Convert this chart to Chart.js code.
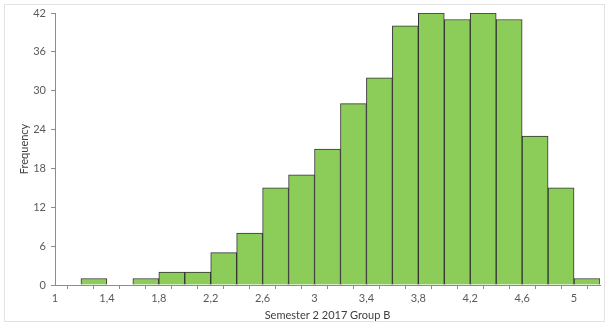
<!DOCTYPE html>
<html>
<head>
<meta charset="utf-8">
<script src="https://cdn.jsdelivr.net/npm/chart.js@4.4.1/dist/chart.umd.min.js"></script>
<style>
  html, body { margin: 0; padding: 0; background: #fff; }
  #frame {
    position: absolute; left: 4px; top: 4px; width: 601px; height: 318px;
    border: 1px solid #e3e3e3; box-sizing: border-box;
  }
  #wrap { position: absolute; left: 0; top: 0; width: 610px; height: 327px; }
</style>
</head>
<body>
<div id="frame"></div>
<div id="wrap"><canvas id="hist"></canvas></div>
<script>
// histogram bins (width 0.2) and their counts
const binWidth = 0.2;
const binStarts = [1.2, 1.6, 1.8, 2.0, 2.2, 2.4, 2.6, 2.8, 3.0, 3.2, 3.4, 3.6, 3.8, 4.0, 4.2, 4.4, 4.6, 4.8, 5.0];
const frequencies = [1, 1, 2, 2, 5, 8, 15, 17, 21, 28, 32, 40, 42, 41, 42, 41, 23, 15, 1];
const xTickValues = [1, 1.2, 1.4, 1.6, 1.8, 2, 2.2, 2.4, 2.6, 2.8, 3, 3.2, 3.4, 3.6, 3.8, 4, 4.2, 4.4, 4.6, 4.8, 5, 5.2];
const xTickLabels = ['1', '', '1,4', '', '1,8', '', '2,2', '', '2,6', '', '3', '', '3,4', '', '3,8', '', '4,2', '', '4,6', '', '5', ''];

const points = binStarts.map((s, i) => ({ x: s + binWidth / 2, y: frequencies[i] }));

const textColor = '#595959';
const axisColor = '#8c8c8c';
const font = { family: 'Lato', size: 11 };

new Chart(document.getElementById('hist'), {
  type: 'bar',
  data: {
    datasets: [{
      data: points,
      backgroundColor: '#8ccd5a',
      borderColor: '#333333',
      borderWidth: 1,
      barPercentage: 1,
      categoryPercentage: 1
    }]
  },
  options: {
    responsive: true,
    maintainAspectRatio: false,
    animation: false,
    layout: { padding: { left: 0, right: 10, top: 13, bottom: 5 } },
    plugins: { legend: { display: false }, tooltip: { enabled: false } },
    scales: {
      x: {
        type: 'linear',
        offset: false,
        min: 1,
        max: 5.2,
        afterBuildTicks: (scale) => { scale.ticks = xTickValues.map(v => ({ value: v })); },
        afterFit: (scale) => { scale.height = 37; },
        ticks: {
          autoSkip: false,
          maxRotation: 0,
          color: textColor,
          font: font,
          padding: 3,
          callback: (value, index) => xTickLabels[index]
        },
        grid: { drawOnChartArea: false, drawTicks: true, tickLength: 4, color: axisColor },
        border: { color: axisColor },
        title: {
          display: true,
          text: 'Semester 2 2017 Group B',
          color: '#404040',
          font: font,
          padding: { top: 2, bottom: 0 }
        }
      },
      y: {
        min: 0,
        max: 42,
        afterFit: (scale) => { scale.width = 55; },
        ticks: { stepSize: 6, color: textColor, font: font, padding: 5 },
        grid: { drawOnChartArea: false, drawTicks: true, tickLength: 4, color: axisColor },
        border: { color: axisColor },
        title: {
          display: true,
          text: 'Frequency',
          color: '#404040',
          font: font,
          padding: { top: 18, bottom: 4 }
        }
      }
    }
  }
});
</script>
</body>
</html>
